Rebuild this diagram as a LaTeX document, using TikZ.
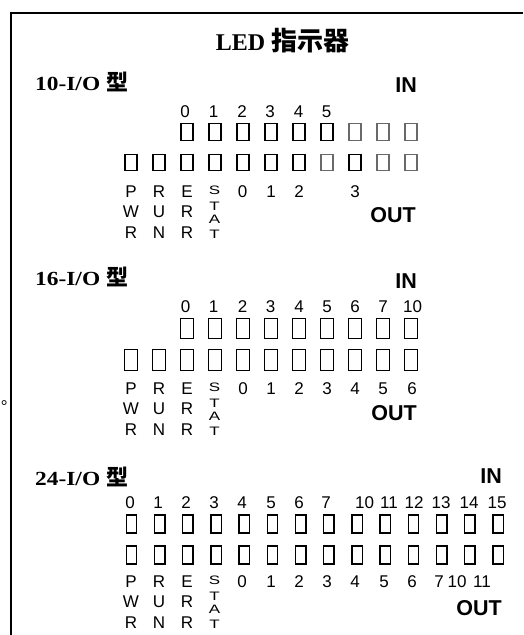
\documentclass[tikz,border=0pt]{standalone}
\usepackage{fontspec}
\usepackage{graphicx}
\setmainfont{Liberation Serif}
\setsansfont{Liberation Sans}
\newfontfamily\cjk{Noto Sans CJK TC}
\newfontfamily\cjksc{Noto Sans CJK SC}
\newfontfamily\headfont{Liberation Serif}[FakeStretch=1.17]
\definecolor{ledgray}{RGB}{105,105,105}
\newcommand\sqz[1]{\scalebox{1}[0.72]{#1}}
\newcommand\headtxt[1]{{\headfont\bfseries\fontsize{20}{22}\selectfont #1 {\cjk\bfseries\fontsize{22}{22}\selectfont 型}}}
\tikzset{
  lbl/.style={font=\sffamily\fontsize{17}{18}\selectfont, inner sep=0, anchor=base},
  stat/.style={lbl},
  inout/.style={font=\sffamily\bfseries\fontsize{21.5}{24}\selectfont, inner sep=0, anchor=base east},
  head/.style={inner sep=0, anchor=base west},
  ledA/.style={draw, line width=1.4pt, inner sep=0, minimum width=12pt, minimum height=16.5pt},
  ledAg/.style={ledA, draw=ledgray, line width=1.1pt},
  ledB/.style={draw, line width=1.4pt, inner sep=0, minimum width=12.5pt, minimum height=20.5pt},
  ledC/.style={draw, line width=1.4pt, inner sep=0, minimum width=10.5pt, minimum height=18pt},
  frame/.style={line width=2pt},
}
\newcommand\statusgroup[2]{%
  \foreach \x/\a/\b/\c [count=\n] in {131/P/W/R,159/R/U/N,187/E/R/R}{
    \node[lbl] (#1s\n a) at (\x,#2) {\a};
    \node[lbl] (#1s\n b) at (\x,#2+20.5) {\b};
    \node[lbl] (#1s\n c) at (\x,#2+41) {\c};
  }
  \foreach \dy/\t [count=\n] in {-3/S,13/T,26.5/A,41/T}{
    \node[stat] (#1st\n) at (214.5,#2+\dy) {\sqz{\t}};
  }
}
\begin{document}
\begin{tikzpicture}[x=1pt,y=-1pt]
\useasboundingbox (0,0) rectangle (523,635);
% frame
\coordinate (fr) at (523,13);
\coordinate (fc) at (11,13);
\coordinate (fb) at (11,635);
\draw[frame] (fr) -- (fc) -- (fb);
\node[inner sep=0, anchor=base west] (dot) at (1,404) {\cjksc\fontsize{16}{16}\selectfont 。};
% title
\node[inner sep=0, anchor=base] (title) at (282.5,50) {\bfseries\fontsize{24}{26}\selectfont LED {\cjk\bfseries\fontsize{26}{26}\selectfont 指示器}};

% ---------- section 1 ----------
\node[head] (h1) at (35,90) {\headtxt{10-I/O}};
\node[inout] (in1) at (417,92) {IN};
\foreach \x/\t in {185/0,213.5/1,242/2,270/3,298.5/4,326.5/5}
  \node[lbl] (t1\t) at (\x,117) {\t};
\foreach \k/\s in {0/ledA,1/ledA,2/ledA,3/ledA,4/ledA,5/ledA,6/ledAg,7/ledAg,8/ledAg}
  \node[\s] (a1\k) at (187+28*\k,132) {};
\foreach \k/\s in {0/ledA,1/ledA,2/ledA,3/ledA,4/ledA,5/ledA,6/ledA,7/ledAg,8/ledA,9/ledAg,10/ledAg}
  \node[\s] (b1\k) at (131+28*\k,162.5) {};
\foreach \x/\t [count=\n] in {242.5/0,271/1,299/2,355/3}
  \node[lbl] (o1\n) at (\x,197) {\t};
\statusgroup{g1}{197}
\node[inout] (out1) at (416,222) {OUT};

% ---------- section 2 ----------
\node[head] (h2) at (35,285) {\headtxt{16-I/O}};
\node[inout] (in2) at (417,288) {IN};
\foreach \x/\t [count=\n] in {185.5/0,213.5/1,242.5/2,270.5/3,299/4,327/5,355/6,383/7,412.5/10}
  \node[lbl] (t2\n) at (\x,312) {\t};
\foreach \k in {0,...,8}
  \node[ledB] (a2\k) at (187+28*\k,328.5) {};
\foreach \k in {0,...,10}
  \node[ledB] (b2\k) at (131+28*\k,360) {};
\foreach \x/\t [count=\n] in {243/0,271/1,299/2,327/3,355/4,383/5,412/6}
  \node[lbl] (o2\n) at (\x,394) {\t};
\statusgroup{g2}{394}
\node[inout] (out2) at (417,420) {OUT};

% ---------- section 3 ----------
\node[head] (h3) at (35,485) {\headtxt{24-I/O}};
\node[inout] (in3) at (502,483) {IN};
\foreach \x/\t [count=\n] in {130/0,158/1,186/2,214/3,242/4,271/5,299/6,326/7,364.5/10,389/11,414/12,441/13,469/14,497/15}
  \node[lbl] (t3\n) at (\x,508) {\t};
\foreach \k in {0,...,13}
  \node[ledC] (a3\k) at (131.5+28.2*\k,524) {};
\foreach \k in {0,...,13}
  \node[ledC] (b3\k) at (131.5+28.2*\k,555) {};
\foreach \x/\t [count=\n] in {242/0,271/1,299/2,327/3,355/4,384/5,412/6,439/7,457/10,482/11}
  \node[lbl] (o3\n) at (\x,587) {\t};
\statusgroup{g3}{587}
\node[inout] (out3) at (502,615) {OUT};
\end{tikzpicture}
\end{document}
